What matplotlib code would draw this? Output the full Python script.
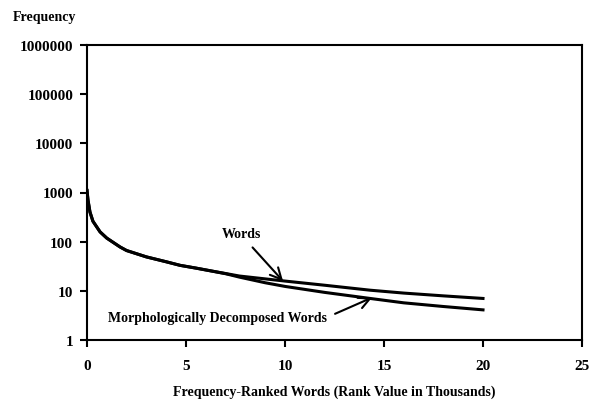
import matplotlib
matplotlib.use("Agg")
import matplotlib.pyplot as plt
from matplotlib.ticker import FixedLocator, NullLocator

rank_k = [0.0, 0.05, 0.15, 0.3, 0.66, 1.0, 1.67, 2.0, 3.0, 4.0, 4.7, 5.5, 6.36, 7.0, 7.7, 9.0, 10.0, 12.0, 14.3, 16.0, 18.0, 20.0]
words = [1100, 700, 400, 260, 158, 118, 78, 66, 49, 39, 33, 29, 25, 22.5, 20, 17.5, 15.8, 13.0, 10.3, 9.0, 7.9, 7.0]
decomposed = [1100, 700, 400, 260, 158, 118, 78, 66, 49, 39, 33, 29, 25, 22.3, 19, 14.6, 12.3, 9.3, 7.0, 5.7, 4.8, 4.1]

xticks = [0, 5, 10, 15, 20, 25]
yticks = [1, 10, 100, 1000, 10000, 100000, 1000000]
ytick_labels = ["1", "10", "100", "1000", "10000", "100000", "1000000"]

plt.rcParams['font.family'] = ['Liberation Serif', 'DejaVu Serif']
plt.rcParams['font.weight'] = 'bold'

fig = plt.figure(figsize=(5.9, 4.02), dpi=100)
ax = fig.add_axes([87/590, 1 - 341/402, (582-87)/590, (341-46)/402])

ax.plot(rank_k, words, color='black', lw=2.2)
ax.plot(rank_k, decomposed, color='black', lw=2.2)

ax.set_yscale('log')
ax.set_xlim(0, 25)
ax.set_ylim(1, 1000000)
ax.xaxis.set_major_locator(FixedLocator(xticks))
ax.yaxis.set_major_locator(FixedLocator(yticks))
ax.yaxis.set_minor_locator(NullLocator())
ax.set_yticklabels(ytick_labels)
ax.set_xticklabels([str(t) for t in xticks])
for s in ax.spines.values():
    s.set_linewidth(1.5)
ax.tick_params(axis='both', direction='out', length=5, width=1.5, labelsize=11)
ax.tick_params(axis='x', pad=9)
ax.tick_params(axis='y', pad=5)

ax.set_xlabel("Frequency-Ranked Words (Rank Value in Thousands)", fontsize=10, fontweight='bold', labelpad=9)
fig.text(13/590, 1 - 18/402, "Frequency", fontsize=10, fontweight='bold', ha='left', va='center')

ax.annotate("Words", xy=(9.9, 15.8), xytext=(7.8, 150), fontsize=10, fontweight='bold',
            ha='center', va='center',
            arrowprops=dict(arrowstyle='->', color='black', lw=1.5, mutation_scale=20,
                            shrinkA=5, shrinkB=0, relpos=(0.6, 0.0)))
ax.annotate("Morphologically Decomposed Words", xy=(14.4, 7.3), xytext=(6.6, 2.9), fontsize=10,
            fontweight='bold', ha='center', va='center',
            arrowprops=dict(arrowstyle='->', color='black', lw=1.5, mutation_scale=20,
                            shrinkA=4, shrinkB=0, relpos=(1.0, 0.5)))

fig.savefig("out.png", dpi=100)
